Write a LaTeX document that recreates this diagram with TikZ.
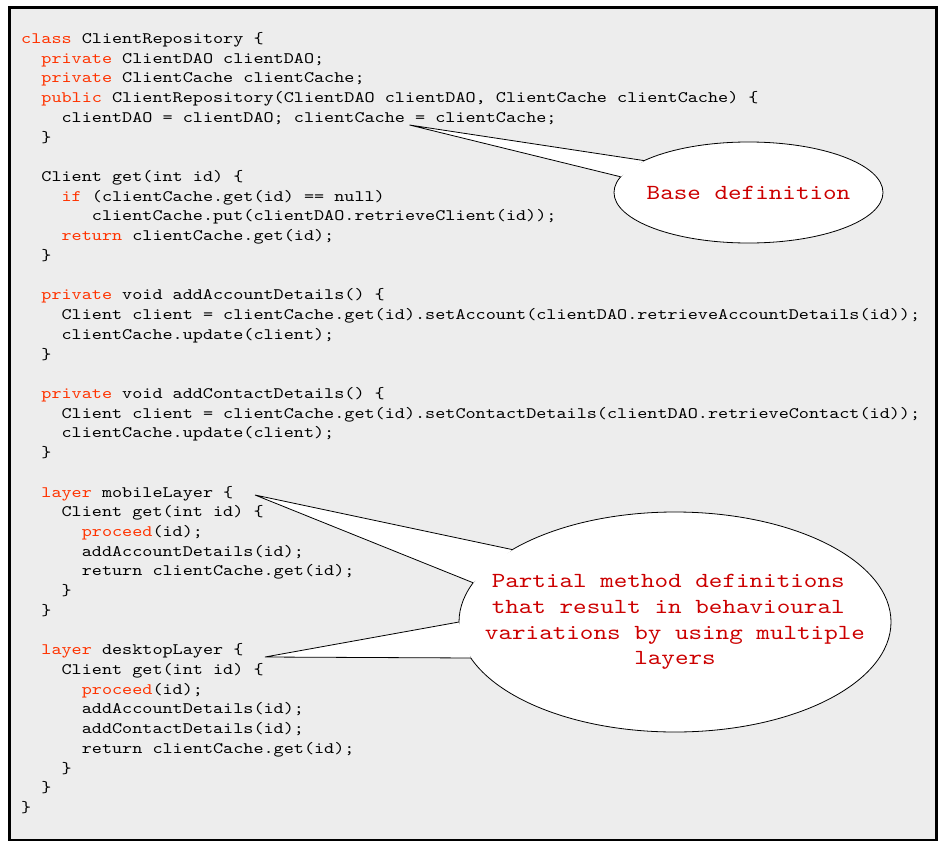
\documentclass[tikz,border=0pt]{standalone}
\usepackage{fontspec}
\usepackage{tikz}
\usetikzlibrary{shapes.geometric}
\newfontfamily\codefont{lmmono10-regular.otf}[FakeStretch=1.2025]
\definecolor{kwred}{RGB}{255,51,0}
\definecolor{notered}{RGB}{204,0,0}
\definecolor{panelgray}{RGB}{237,237,237}
\newcommand{\kw}[1]{\textcolor{kwred}{#1}}

\begin{document}
\begin{tikzpicture}[x=1bp,y=-1bp,
    codeline/.style={anchor=base west,inner sep=0pt,font=\codefont\fontsize{16bp}{19.72bp}\selectfont},
    bubble/.style={ellipse,draw=black,fill=white,line width=0.8bp,inner sep=0pt,outer sep=0pt},
    notetext/.style={align=center,text=notered,inner sep=0pt,font=\codefont\fontsize{21.5bp}{25.7bp}\selectfont}]
  \useasboundingbox (0,0) rectangle (950,850);
  \draw[line width=2.6bp,fill=panelgray] (9.7,7.7) rectangle (936.7,840);
  % code listing, one node per line
  \foreach \ind/\txt [count=\n] in {
      0/{\kw{class} ClientRepository \{},
      2/{\kw{private} ClientDAO clientDAO;},
      2/{\kw{private} ClientCache clientCache;},
      2/{\kw{public} ClientRepository(ClientDAO clientDAO, ClientCache clientCache) \{},
      4/{clientDAO = clientDAO; clientCache = clientCache;},
      2/\},
      0/{},
      2/{Client get(int id) \{},
      4/{\kw{if} (clientCache.get(id) == null)},
      7/{clientCache.put(clientDAO.retrieveClient(id));},
      4/{\kw{return} clientCache.get(id);},
      2/\},
      0/{},
      2/{\kw{private} void addAccountDetails() \{},
      4/{Client client = clientCache.get(id).setAccount(clientDAO.retrieveAccountDetails(id));},
      4/{clientCache.update(client);},
      2/\},
      0/{},
      2/{\kw{private} void addContactDetails() \{},
      4/{Client client = clientCache.get(id).setContactDetails(clientDAO.retrieveContact(id));},
      4/{clientCache.update(client);},
      2/\},
      0/{},
      2/{\kw{layer} mobileLayer \{},
      4/{Client get(int id) \{},
      6/{\kw{proceed}(id);},
      6/{addAccountDetails(id);},
      6/{return clientCache.get(id);},
      4/\},
      2/\},
      0/{},
      2/{\kw{layer} desktopLayer \{},
      4/{Client get(int id) \{},
      6/{\kw{proceed}(id);},
      6/{addAccountDetails(id);},
      6/{addContactDetails(id);},
      6/{return clientCache.get(id);},
      4/\},
      2/\},
      0/\}}
    \node[codeline] (l\n) at (21+10.1*\ind, 43.5+19.72*\n-19.72) {\txt};
  % callout: base definition
  \node[bubble,minimum width=269bp,minimum height=101bp] (base) at (748.5,192.5) {};
  \coordinate (basetip) at (409.5,125);
  \fill[white] (basetip) -- (base.163.4) -- (base.173.1) -- cycle;
  \draw[line width=0.8bp] (base.163.4) -- (basetip) -- (base.173.1);
  \node[notetext] (basetxt) at (base.center) {Base definition};
  % callout: layers
  \node[bubble,minimum width=432bp,minimum height=220bp] (layers) at (675,622) {};
  \coordinate (mobiletip) at (255,495);
  \coordinate (desktoptip) at (265,657);
  \fill[white] (mobiletip) -- (layers.156.2) -- (layers.169.1) -- cycle;
  \fill[white] (desktoptip) -- (layers.180) -- (layers.190.3) -- cycle;
  \draw[line width=0.8bp] (layers.156.2) -- (mobiletip) -- (layers.169.1);
  \draw[line width=0.8bp] (layers.180) -- (desktoptip) -- (layers.190.3);
  \node[notetext] (layerstxt) at (layers.center) {Partial method definitions\hphantom{s}\\that result in behavioural\hphantom{s}\\variations by using multiple\\layers};
\end{tikzpicture}
\end{document}
